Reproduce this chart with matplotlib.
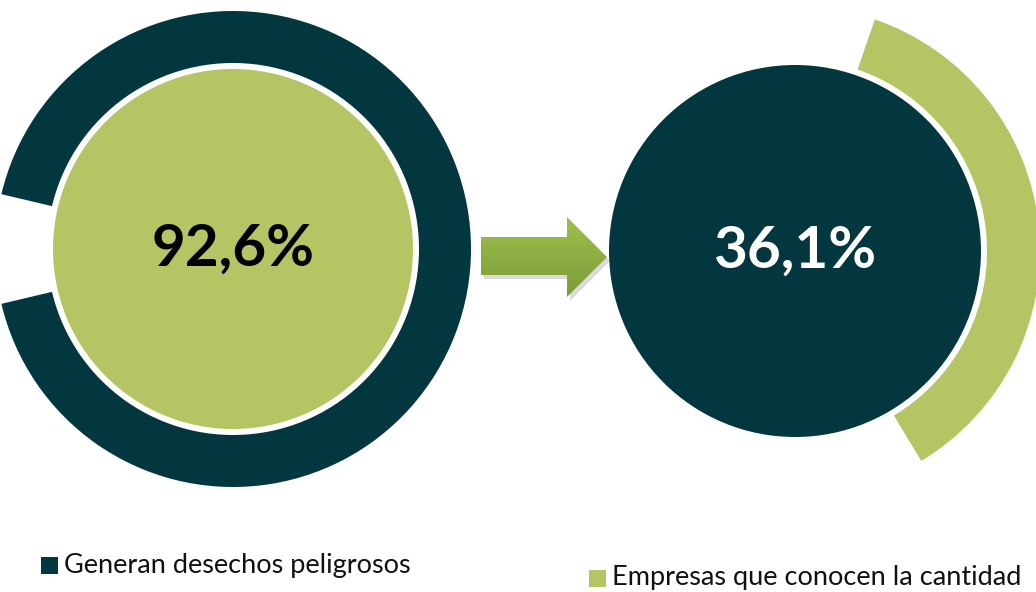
import numpy as np
import matplotlib
matplotlib.use('Agg')
import matplotlib.pyplot as plt
from matplotlib.patches import Circle, Polygon
from matplotlib.colors import LinearSegmentedColormap

# data
labels = ['Generan desechos peligrosos', 'Empresas que conocen la cantidad']
values = [92.6, 36.1]
value_texts = ['92,6%', '36,1%']

dark = '#02373F'
green = '#B5C564'

W, H = 1036, 592
fig = plt.figure(figsize=(W / 100, H / 100), dpi=100)
ax = fig.add_axes([0, 0, 1, 1])

# left: ring of 92.6 with the gap on the left
cx1, cy1 = 233, H - 249
gap = (100 - values[0]) * 3.6
ax.pie([values[0], 100 - values[0]], colors=[dark, 'none'], startangle=180 + gap / 2,
       center=(cx1, cy1), radius=238, wedgeprops=dict(width=52, linewidth=0))
ax.add_patch(Circle((cx1, cy1), 180, facecolor=green, edgecolor='none'))
ax.text(cx1, cy1, value_texts[0], ha='center', va='center', fontsize=42,
        fontweight='bold', family='Lato', color='black')

# right: arc of 36.1 on the right side
cx2, cy2 = 795, H - 251
mid = 6
ax.pie([values[1], 100 - values[1]], colors=[green, 'none'], counterclock=False,
       startangle=mid + values[1] * 3.6 / 2, center=(cx2, cy2), radius=245,
       wedgeprops=dict(width=53, linewidth=0))
ax.add_patch(Circle((cx2, cy2), 186, facecolor=dark, edgecolor='none'))
ax.text(cx2, cy2, value_texts[1], ha='center', va='center', fontsize=42,
        fontweight='bold', family='Lato', color='white')

# arrow between the two
pts = np.array([[481, 237], [567, 237], [567, 217], [607, 257],
                [567, 297], [567, 275], [481, 275]], dtype=float)
pts[:, 1] = H - pts[:, 1]
shadow = Polygon(pts + [3, -4], closed=True, facecolor='#999999', alpha=0.35,
                 edgecolor='none')
ax.add_patch(shadow)
arrow = Polygon(pts, closed=True, facecolor='none', edgecolor='none')
ax.add_patch(arrow)
cmap = LinearSegmentedColormap.from_list('g', ['#7C9C3A', '#9DC04B'])
grad = np.linspace(0, 1, 100).reshape(-1, 1)
im = ax.imshow(grad, cmap=cmap, extent=[481, 607, H - 297, H - 217],
               origin='lower', aspect='auto', zorder=3)
im.set_clip_path(arrow)

# legend entries
sq = (17 * 0.72) ** 2
ax.scatter([49], [H - 565], marker='s', s=sq, color=dark, linewidths=0)
ax.text(64, H - 565, labels[0], va='center', ha='left', fontsize=19.5,
        family='Lato', color='#111111')
ax.scatter([597], [H - 578], marker='s', s=sq, color=green, linewidths=0)
ax.text(612, H - 578, labels[1], va='center', ha='left', fontsize=19.5,
        family='Lato', color='#111111')

ax.set_xlim(0, W)
ax.set_ylim(0, H)
ax.set_aspect('equal')
ax.axis('off')

fig.savefig('out.png', dpi=100, facecolor='white')
